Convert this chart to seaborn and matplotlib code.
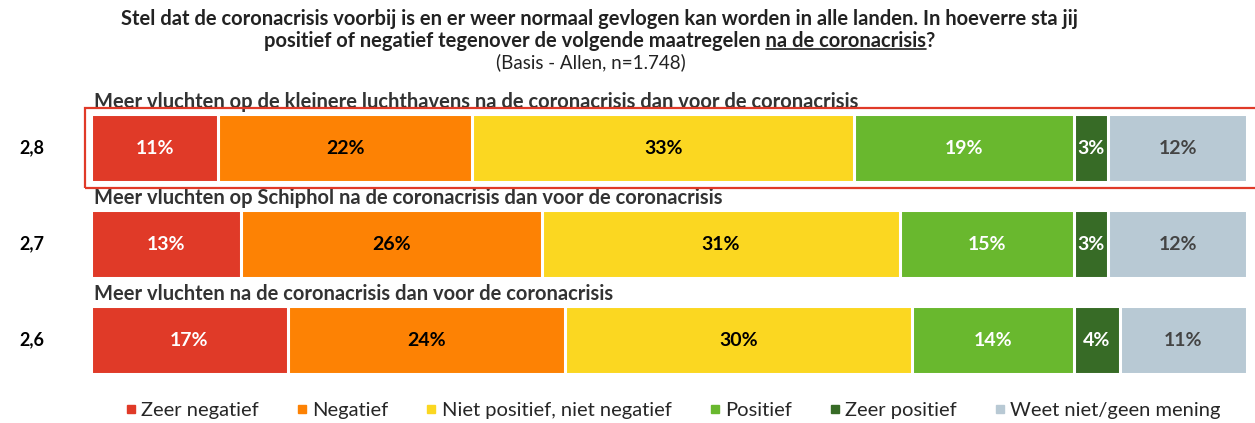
import numpy as np
import pandas as pd
import seaborn as sns
import matplotlib.pyplot as plt
from matplotlib.lines import Line2D
from matplotlib.patches import Rectangle

sns.set_style("white")
plt.rcParams["font.family"] = ["Lato", "DejaVu Sans"]

items = [
    "Meer vluchten op de kleinere luchthavens na de coronacrisis dan voor de coronacrisis",
    "Meer vluchten op Schiphol na de coronacrisis dan voor de coronacrisis",
    "Meer vluchten na de coronacrisis dan voor de coronacrisis",
]
means = ["2,8", "2,7", "2,6"]
answers = ["Zeer negatief", "Negatief", "Niet positief, niet negatief",
           "Positief", "Zeer positief", "Weet niet/geen mening"]
zeer_negatief = [11, 13, 17]
negatief = [22, 26, 24]
neutraal = [33, 31, 30]
positief = [19, 15, 14]
zeer_positief = [3, 3, 4]
weet_niet = [12, 12, 11]

colors = ["#E03A28", "#FD8204", "#FBD721", "#69B82E", "#376B26", "#B8C9D4"]
text_colors = ["white", "black", "black", "white", "white", "#444444"]

vals = np.array([zeer_negatief, negatief, neutraal, positief, zeer_positief, weet_niet], dtype=float)
cum = vals.cumsum(axis=0)

fig = plt.figure(figsize=(12.55, 4.23), dpi=100)
ax = fig.add_axes([91 / 1255, 1 - 388 / 423, (1247 - 91) / 1255, 288 / 423])

# stacked bars: draw cumulative totals from the longest to the shortest
for k in range(len(answers) - 1, -1, -1):
    df = pd.DataFrame({"item": items, "cum": cum[k]})
    sns.barplot(data=df, x="cum", y="item", orient="h", color=colors[k],
                edgecolor="white", linewidth=2.2, width=0.71, ax=ax,
                saturation=1)

for i in range(len(items)):
    for k in range(len(answers)):
        start = cum[k, i] - vals[k, i]
        ax.text(start + vals[k, i] / 2, i, f"{int(vals[k, i])}%", ha="center", va="center",
                fontsize=14, fontweight="bold", color=text_colors[k])
    # item label above bar
    ax.text(0.3, i - 0.375, items[i], ha="left", va="bottom", fontsize=14.5,
            fontweight="bold", color="#333333")
    ax.text(-6.2, i, means[i], ha="left", va="center", fontsize=13,
            fontweight="bold", color="black")

ax.set_xlim(0, 100)
ax.set_ylim(2.5, -0.5)
ax.set_xlabel("")
ax.set_ylabel("")
ax.set_xticks([])
ax.set_yticks([])
sns.despine(ax=ax, left=True, bottom=True)

# red highlight box around first row
fig.patches.append(Rectangle((85 / 1255, 1 - 188 / 423), 1.0, 80 / 423,
                             transform=fig.transFigure, fill=False,
                             edgecolor="#E03A28", linewidth=1.6, clip_on=False))

# title
fig.text(0.478, 1 - 19 / 423, "Stel dat de coronacrisis voorbij is en er weer normaal gevlogen kan worden in alle landen. In hoeverre sta jij",
         ha="center", va="center", fontsize=14.5, fontweight="bold", color="#222222")
line2 = "positief of negatief tegenover de volgende maatregelen na de coronacrisis?"
t2 = fig.text(0.478, 1 - 41 / 423, line2, ha="center", va="center", fontsize=14.5,
              fontweight="bold", color="#222222")
fig.text(0.471, 1 - 62 / 423, "(Basis - Allen, n=1.748)", ha="center", va="center",
         fontsize=13.5, color="#222222")

# underline "na de coronacrisis"
fig.canvas.draw()
r = fig.canvas.get_renderer()
bb = t2.get_window_extent(r)
tmp = fig.text(0, 0, line2[:-1], fontsize=14.5, fontweight="bold")
w_pre = tmp.get_window_extent(r).width
tmp.set_text("na de coronacrisis")
w_seg = tmp.get_window_extent(r).width
tmp.remove()
x1 = bb.x0 + w_pre
x0 = x1 - w_seg
yline = bb.y0 + 2
fig.add_artist(Line2D([x0 / 1255, x1 / 1255], [yline / 423, yline / 423],
                      transform=fig.transFigure, color="#222222", linewidth=1.2))

# legend
handles = [Line2D([], [], marker="s", linestyle="", color=c, markersize=5.5) for c in colors]
fig.legend(handles, answers, loc="center", bbox_to_anchor=(0.536, 1 - 410 / 423),
           ncol=6, frameon=False, fontsize=14.5, handletextpad=0.2, columnspacing=1.85,
           handlelength=0.6)

fig.savefig("out.png", dpi=100)
